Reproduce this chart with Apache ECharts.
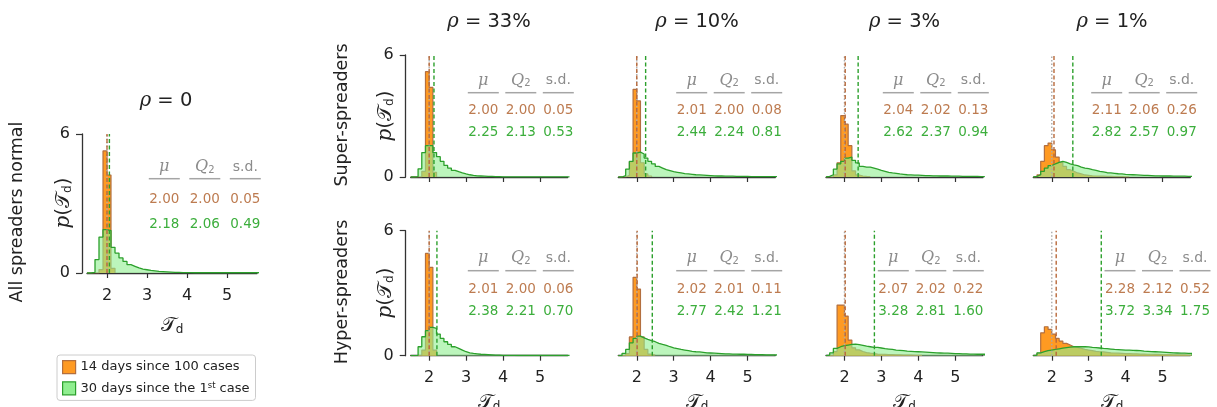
<!DOCTYPE html>
<html><head><meta charset="utf-8">
<script src="https://cdn.jsdelivr.net/npm/echarts@6/dist/echarts.min.js"></script>
<style>html,body{margin:0;padding:0;background:#fff}#c{width:1217px;height:407px}</style>
</head><body><div id="c"></div>
<script>
// ---------------- DATA ----------------
// histogram bins: first bin starts at binStart, width binWidth (density values)
const binStart = 1.5, binWidth = 0.1;
const xTicks = [2, 3, 4, 5];
const yTicks = [0, 6];
const rhoLabels = ['33%', '10%', '3%', '1%'];
const rowLabels = ['Super-spreaders', 'Hyper-spreaders'];
const leftRowLabel = 'All spreaders normal';
const nameOrange = '14 days since 100 cases';
const nameGreen = '30 days since the 1st case';
const trueValue = 2;

const orangeAll = [0, 0, 0, 0.15, 5.27, 4.23, 0.2];
const greenAll = [0, 0.03, 0.58, 1.55, 1.87, 1.83, 1.11, 0.86, 0.65, 0.5, 0.36, 0.29, 0.22, 0.17, 0.14, 0.11, 0.09, 0.07, 0.06, 0.05, 0.04, 0.03, 0.03, 0.02, 0.02, 0.02, 0.01, 0.01, 0.01, 0.01, 0.01, 0.01, 0.01, 0.01, 0.01, 0.01, 0.01, 0.01, 0.01, 0.01, 0.01, 0.01, 0.01];

const orangeSuper33 = [0, 0, 0, 0.28, 5.18, 4.41, 0.23];
const greenSuper33 = [0, 0.02, 0.4, 1.2, 1.54, 1.54, 1.2, 1.0, 0.77, 0.57, 0.44, 0.33, 0.26, 0.2, 0.15, 0.11, 0.08, 0.06, 0.05, 0.04, 0.03, 0.03, 0.02, 0.02, 0.01, 0.01, 0.01, 0.01, 0.01, 0.01, 0.01, 0.01, 0.01, 0.01, 0.01, 0.01, 0.01, 0.01, 0.01, 0.01, 0.01, 0.01, 0.01];
const orangeSuper10 = [0, 0, 0.08, 0.75, 4.31, 3.74, 0.7, 0.15, 0.05];
const greenSuper10 = [0, 0.07, 0.39, 0.77, 1.18, 1.22, 1.13, 0.93, 0.77, 0.65, 0.52, 0.44, 0.36, 0.31, 0.26, 0.23, 0.2, 0.17, 0.15, 0.13, 0.11, 0.1, 0.09, 0.08, 0.07, 0.06, 0.05, 0.05, 0.04, 0.04, 0.04, 0.03, 0.03, 0.03, 0.03, 0.02, 0.02, 0.02, 0.02, 0.02, 0.02, 0.02, 0.02];
const orangeSuper3 = [0, 0, 0.1, 0.7, 3.02, 2.6, 1.54, 0.3, 0.1, 0.05, 0.03, 0.02];
const greenSuper3 = [0.03, 0.11, 0.39, 0.65, 0.77, 0.93, 0.98, 0.82, 0.69, 0.52, 0.49, 0.49, 0.44, 0.39, 0.33, 0.28, 0.23, 0.2, 0.18, 0.15, 0.13, 0.11, 0.1, 0.09, 0.09, 0.08, 0.07, 0.07, 0.06, 0.06, 0.05, 0.05, 0.05, 0.04, 0.04, 0.04, 0.03, 0.03, 0.03, 0.03, 0.03, 0.02, 0.02];
const orangeSuper1 = [0, 0.1, 0.77, 1.54, 1.67, 1.34, 0.98, 0.72, 0.52, 0.36, 0.28, 0.2, 0.15, 0.1, 0.08, 0.06, 0.05, 0.04, 0.04, 0.03, 0.03, 0.02, 0.02, 0.02, 0.01, 0.01];
const greenSuper1 = [0.03, 0.11, 0.28, 0.44, 0.56, 0.65, 0.72, 0.77, 0.72, 0.65, 0.6, 0.56, 0.49, 0.44, 0.41, 0.36, 0.33, 0.28, 0.25, 0.21, 0.2, 0.18, 0.16, 0.15, 0.13, 0.12, 0.11, 0.1, 0.09, 0.08, 0.08, 0.07, 0.06, 0.06, 0.05, 0.05, 0.05, 0.04, 0.04, 0.04, 0.04, 0.03, 0.03];

const orangeHyper33 = [0, 0, 0, 0.27, 4.91, 4.24, 0.27];
const greenHyper33 = [0, 0.02, 0.43, 0.91, 1.2, 1.36, 1.31, 1.04, 0.83, 0.67, 0.54, 0.43, 0.35, 0.27, 0.19, 0.14, 0.11, 0.09, 0.07, 0.06, 0.05, 0.04, 0.03, 0.03, 0.02, 0.02, 0.02, 0.02, 0.01, 0.01, 0.01, 0.01, 0.01, 0.01, 0.01, 0.01, 0.01, 0.01, 0.01, 0.01, 0.01, 0.01, 0.01];
const orangeHyper10 = [0, 0, 0.1, 0.9, 3.76, 3.2, 0.9, 0.3, 0.08, 0.03];
const greenHyper10 = [0, 0.11, 0.3, 0.62, 0.83, 0.94, 0.86, 0.78, 0.72, 0.67, 0.59, 0.54, 0.5, 0.43, 0.38, 0.34, 0.3, 0.27, 0.24, 0.21, 0.19, 0.18, 0.16, 0.14, 0.13, 0.12, 0.11, 0.1, 0.09, 0.09, 0.08, 0.08, 0.07, 0.07, 0.06, 0.06, 0.05, 0.05, 0.05, 0.04, 0.04, 0.04, 0.04];
const orangeHyper3 = [0, 0, 0.2, 2.43, 2.43, 1.9, 0.75, 0.38, 0.28, 0.2, 0.15, 0.12, 0.1, 0.08, 0.07, 0.06, 0.05, 0.05, 0.04, 0.04, 0.03, 0.03, 0.03, 0.02, 0.02, 0.02];
const greenHyper3 = [0.03, 0.14, 0.35, 0.43, 0.48, 0.51, 0.54, 0.56, 0.53, 0.5, 0.46, 0.43, 0.4, 0.4, 0.37, 0.34, 0.32, 0.3, 0.27, 0.26, 0.24, 0.22, 0.21, 0.2, 0.19, 0.18, 0.17, 0.16, 0.15, 0.14, 0.13, 0.12, 0.12, 0.11, 0.1, 0.1, 0.09, 0.09, 0.08, 0.08, 0.07, 0.07, 0.07];
const orangeHyper1 = [0, 0.11, 1.1, 1.39, 1.26, 1.04, 0.83, 0.7, 0.59, 0.51, 0.43, 0.4, 0.35, 0.3, 0.27, 0.24, 0.21, 0.19, 0.18, 0.16, 0.14, 0.13, 0.12, 0.11, 0.1, 0.1, 0.09, 0.09, 0.08, 0.08, 0.07, 0.07, 0.06, 0.06, 0.05, 0.05, 0.05, 0.04, 0.04, 0.04, 0.04, 0.03, 0.03];
const greenHyper1 = [0.03, 0.14, 0.19, 0.24, 0.27, 0.3, 0.33, 0.36, 0.39, 0.41, 0.43, 0.43, 0.44, 0.43, 0.42, 0.4, 0.39, 0.37, 0.35, 0.34, 0.32, 0.3, 0.29, 0.28, 0.27, 0.27, 0.26, 0.25, 0.24, 0.22, 0.21, 0.2, 0.19, 0.18, 0.17, 0.16, 0.15, 0.14, 0.13, 0.12, 0.12, 0.11, 0.11];

// statistics: [mu, Q2 (median), s.d.]
const statsOrangeAll = [2.00, 2.00, 0.05], statsGreenAll = [2.18, 2.06, 0.49];
const statsOrangeSuper33 = [2.00, 2.00, 0.05], statsGreenSuper33 = [2.25, 2.13, 0.53];
const statsOrangeSuper10 = [2.01, 2.00, 0.08], statsGreenSuper10 = [2.44, 2.24, 0.81];
const statsOrangeSuper3 = [2.04, 2.02, 0.13], statsGreenSuper3 = [2.62, 2.37, 0.94];
const statsOrangeSuper1 = [2.11, 2.06, 0.26], statsGreenSuper1 = [2.82, 2.57, 0.97];
const statsOrangeHyper33 = [2.01, 2.00, 0.06], statsGreenHyper33 = [2.38, 2.21, 0.70];
const statsOrangeHyper10 = [2.02, 2.01, 0.11], statsGreenHyper10 = [2.77, 2.42, 1.21];
const statsOrangeHyper3 = [2.07, 2.02, 0.22], statsGreenHyper3 = [3.28, 2.81, 1.60];
const statsOrangeHyper1 = [2.28, 2.12, 0.52], statsGreenHyper1 = [3.72, 3.34, 1.75];

// ---------------- LAYOUT ----------------
const C_OR_FILL = '#ff9a22', C_OR_EDGE = '#b36f3f', C_OR_TEXT = '#bd7b50', C_OR_DASH = '#b8693a';
const C_GR_FILL = '#90ee90', C_GR_EDGE = '#2ca02c', C_GR_TEXT = '#3cae3c';
const C_AX = '#333', C_GRAY = '#8c8c8c';
const SANS = 'DejaVu Sans', SERIF = 'DejaVu Serif';

const topRows = [80.7, 92.7, 110.7, 132.7], botRows = [258.3, 270.7, 289, 311.7];
const panels = [
  {o: orangeAll, g: greenAll, so: statsOrangeAll, sg: statsGreenAll, left: 87, top: 134, width: 170, height: 139, yAxis: true, xLabels: true, xOff: 6, tx: 164.3, dx: 40.5, rows: [167.3, 178.7, 199.3, 224]},
  {o: orangeSuper33, g: greenSuper33, so: statsOrangeSuper33, sg: statsGreenSuper33, left: 410.7, top: 55, width: 157, height: 122, yAxis: true, xLabels: false, xOff: 5, tx: 483.3, dx: 37.5, rows: topRows},
  {o: orangeSuper10, g: greenSuper10, so: statsOrangeSuper10, sg: statsGreenSuper10, left: 618.3, top: 55, width: 157, height: 122, yAxis: false, xLabels: false, xOff: 5, tx: 691.7, dx: 37.5, rows: topRows},
  {o: orangeSuper3, g: greenSuper3, so: statsOrangeSuper3, sg: statsGreenSuper3, left: 826, top: 55, width: 157, height: 122, yAxis: false, xLabels: false, xOff: 5, tx: 898.3, dx: 37.5, rows: topRows},
  {o: orangeSuper1, g: greenSuper1, so: statsOrangeSuper1, sg: statsGreenSuper1, left: 1033.3, top: 55, width: 157, height: 122, yAxis: false, xLabels: false, xOff: 5, tx: 1106.7, dx: 37.5, rows: topRows},
  {o: orangeHyper33, g: greenHyper33, so: statsOrangeHyper33, sg: statsGreenHyper33, left: 410.7, top: 230.7, width: 157, height: 125, yAxis: true, xLabels: true, xOff: 5, tx: 483.3, dx: 37.5, rows: botRows},
  {o: orangeHyper10, g: greenHyper10, so: statsOrangeHyper10, sg: statsGreenHyper10, left: 618.3, top: 230.7, width: 157, height: 125, yAxis: false, xLabels: true, xOff: 5, tx: 691.7, dx: 37.5, rows: botRows},
  {o: orangeHyper3, g: greenHyper3, so: statsOrangeHyper3, sg: statsGreenHyper3, left: 826, top: 230.7, width: 157, height: 125, yAxis: false, xLabels: true, xOff: 5, tx: 893.3, dx: 37.5, rows: botRows},
  {o: orangeHyper1, g: greenHyper1, so: statsOrangeHyper1, sg: statsGreenHyper1, left: 1033.3, top: 230.7, width: 157, height: 125, yAxis: false, xLabels: true, xOff: 5, tx: 1120, dx: 37.5, rows: botRows}
];

function stepData(h) {
  const pts = [[binStart, 0]];
  h.forEach((v, i) => pts.push([+(binStart + i * binWidth).toFixed(3), v]));
  pts.push([+(binStart + h.length * binWidth).toFixed(3), 0]);
  return pts;
}

const mathRich = (size) => ({
  i: {fontFamily: SERIF, fontStyle: 'italic', fontSize: size, fill: '#222', color: '#222'},
  t: {fontFamily: SANS, fontSize: size, fill: '#222', color: '#222'},
  sub: {fontFamily: SANS, fontSize: Math.round(size * 0.62), verticalAlign: 'bottom', fill: '#222', color: '#222'},
  n: {fontFamily: SANS, fontSize: size, fill: '#222', color: '#222'}
});

const grid = [], xAxis = [], yAxis = [], series = [], graphic = [];
panels.forEach((p, k) => {
  grid.push({left: p.left, top: p.top, width: p.width, height: p.height, containLabel: false});
  xAxis.push({
    type: 'value', gridIndex: k, min: 1.5, max: 5.75, offset: p.xOff,
    splitLine: {show: false},
    axisLine: {show: true, lineStyle: {color: C_AX, width: 1.3}},
    axisTick: {show: true, customValues: xTicks, length: 5, lineStyle: {color: C_AX, width: 1.2}},
    axisLabel: {show: p.xLabels, customValues: xTicks, fontFamily: SANS, fontSize: 16, color: '#222', margin: 9}
  });
  yAxis.push({
    type: 'value', gridIndex: k, min: 0, max: 6, interval: 6, show: p.yAxis, offset: 5,
    splitLine: {show: false},
    axisLine: {show: true, lineStyle: {color: C_AX, width: 1.3}},
    axisTick: {show: true, length: 6, lineStyle: {color: C_AX, width: 1.2}},
    axisLabel: {fontFamily: SANS, fontSize: 16, color: '#222', margin: 12}
  });
  series.push({
    type: 'line', name: nameOrange, xAxisIndex: k, yAxisIndex: k, data: stepData(p.o), step: 'end',
    symbol: 'none', silent: true, z: 2,
    lineStyle: {color: C_OR_EDGE, width: 1.2}, itemStyle: {color: C_OR_FILL},
    areaStyle: {color: C_OR_FILL, opacity: 1}
  });
  series.push({
    type: 'line', name: nameGreen, xAxisIndex: k, yAxisIndex: k, data: stepData(p.g), step: 'end',
    symbol: 'none', silent: true, z: 3,
    lineStyle: {color: C_GR_EDGE, width: 1.3}, itemStyle: {color: C_GR_FILL},
    areaStyle: {color: C_GR_FILL, opacity: 0.6}
  });
  const vline = (x, color, type, z) => ({
    type: 'line', xAxisIndex: k, yAxisIndex: k, data: [[x, 0], [x, 6]], symbol: 'none', silent: true, z,
    lineStyle: {color, type, width: 1.4}
  });
  series.push(vline(trueValue, '#aaaaaa', [1.5, 2], 4));
  series.push(vline(p.so[1], C_OR_DASH, [4, 2.5], 5));
  series.push(vline(p.sg[1], C_GR_EDGE, [4, 2.5], 5));

  // statistics table
  const cols = [p.tx, p.tx + p.dx, p.tx + 2 * p.dx];
  const heads = ['{i|μ}', '{i|Q}{s|2}', '{n|s.d.}'];
  cols.forEach((cx, j) => {
    graphic.push({type: 'text', x: cx, y: p.rows[0], silent: true, style: {
      text: heads[j], fill: C_GRAY, align: 'center', verticalAlign: 'middle', textAlign: 'center', textVerticalAlign: 'middle',
      fontFamily: SANS, fontSize: 14,
      rich: {
        i: {fontFamily: SERIF, fontStyle: 'italic', fontSize: 16, fill: C_GRAY},
        s: {fontFamily: SANS, fontSize: 10, fill: C_GRAY, verticalAlign: 'bottom', padding: [6, 0, 0, 0]},
        n: {fontFamily: SANS, fontSize: 14, fill: C_GRAY}
      }}});
    graphic.push({type: 'line', silent: true, shape: {x1: cx - 15.5, y1: p.rows[1], x2: cx + 15.5, y2: p.rows[1]},
      style: {stroke: '#a5a5a5', lineWidth: 1.5}});
    graphic.push({type: 'text', x: cx, y: p.rows[2], silent: true, style: {
      text: p.so[j].toFixed(2), fill: C_OR_TEXT, fontFamily: SANS, fontSize: 13.5,
      align: 'center', verticalAlign: 'middle', textAlign: 'center', textVerticalAlign: 'middle'}});
    graphic.push({type: 'text', x: cx, y: p.rows[3], silent: true, style: {
      text: p.sg[j].toFixed(2), fill: C_GR_TEXT, fontFamily: SANS, fontSize: 13.5,
      align: 'center', verticalAlign: 'middle', textAlign: 'center', textVerticalAlign: 'middle'}});
  });
});

// labels
function txt(x, y, text, size, rot, richSize) {
  graphic.push({type: 'text', x, y, rotation: rot || 0, silent: true, style: {
    text, fill: '#222', fontFamily: SANS, fontSize: size,
    align: 'center', verticalAlign: 'middle', textAlign: 'center', textVerticalAlign: 'middle',
    rich: mathRich(richSize || size)}});
}
const colCenters = [489, 697, 904.5, 1112];
rhoLabels.forEach((r, j) => txt(colCenters[j], 22, '{i|ρ}{n| = ' + r + '}', 19.5));
txt(166, 101, '{i|ρ}{n| = 0}', 19.5);
txt(17, 212, leftRowLabel, 17.5, Math.PI / 2);
txt(342, 115, rowLabels[0], 17.5, Math.PI / 2);
txt(342, 292, rowLabels[1], 17.5, Math.PI / 2);
const pLabel = '{i|p}{n|(}{t|𝒯}{sub|d}{n|)}';
txt(386, 116, pLabel, 20, Math.PI / 2);
txt(386, 293, pLabel, 20, Math.PI / 2);
txt(64, 203, pLabel, 20, Math.PI / 2);
const tLabel = '{t|𝒯}{sub|d}';
colCenters.forEach(cx => txt(cx, 403, tLabel, 20));
txt(172, 326, tLabel, 20);

const chart = echarts.init(document.getElementById('c'), null, {renderer: 'canvas'});
chart.setOption({
  animation: false,
  backgroundColor: '#fff',
  grid, xAxis, yAxis, series, graphic,
  legend: {
    left: 57, top: 355, orient: 'vertical', icon: 'rect', itemWidth: 13, itemHeight: 13, itemGap: 7,
    padding: [5, 6, 5, 5], borderColor: '#cccccc', borderWidth: 1, borderRadius: 3, backgroundColor: '#fff',
    selectedMode: false,
    textStyle: {fontFamily: SANS, fontSize: 13, color: '#222', lineHeight: 14,
      rich: {sup: {fontFamily: SANS, fontSize: 8.5, verticalAlign: 'top', color: '#222', lineHeight: 14}}},
    formatter: n => n.replace('1st', '1{sup|st}'),
    data: [
      {name: nameOrange, itemStyle: {color: C_OR_FILL, borderColor: C_OR_EDGE, borderWidth: 1.2}},
      {name: nameGreen, itemStyle: {color: C_GR_FILL, borderColor: C_GR_EDGE, borderWidth: 1.2}}
    ]
  }
});
</script></body></html>
